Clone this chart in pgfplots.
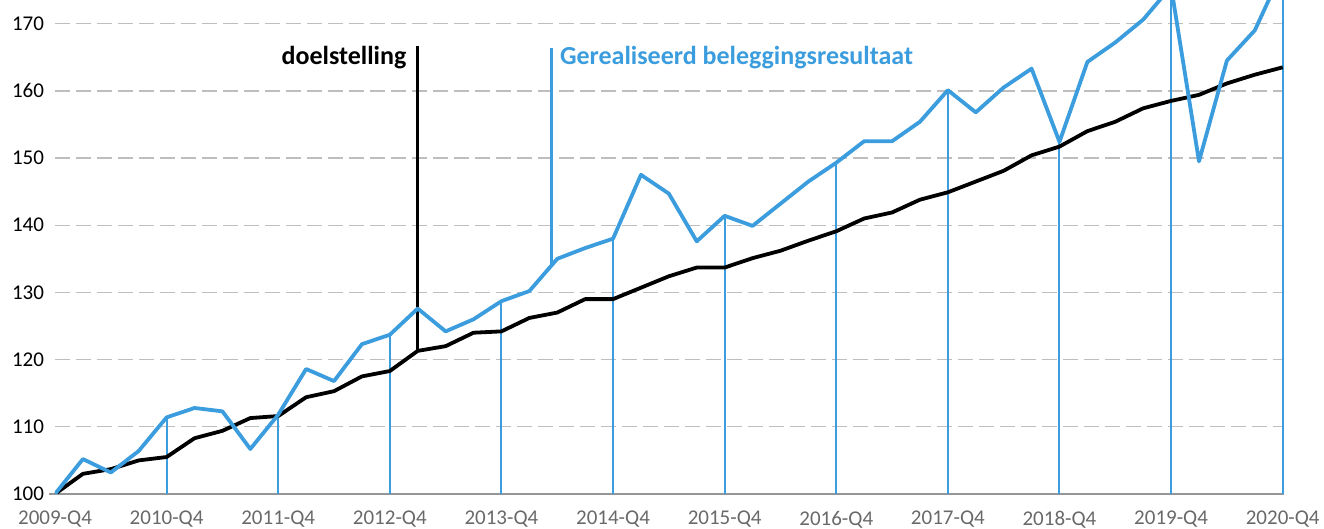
\documentclass[border=0pt]{standalone}
\usepackage{fontspec}
\setmainfont{Carlito}
\usepackage{pgfplots}
\usepackage{pgfplotstable}
\pgfplotsset{compat=1.18}
\definecolor{myblue}{RGB}{59,157,221}
\definecolor{gridgrey}{RGB}{190,190,190}
\definecolor{axisgrey}{RGB}{150,150,150}
\definecolor{labgrey}{RGB}{105,105,105}

\pgfplotstableread{
x real doel
0 100.0 100.0
1 105.2 103.0
2 103.2 103.7
3 106.4 105.0
4 111.4 105.5
5 112.8 108.3
6 112.3 109.4
7 106.7 111.3
8 111.8 111.6
9 118.6 114.4
10 116.8 115.3
11 122.3 117.5
12 123.7 118.3
13 127.6 121.3
14 124.2 122.0
15 126.0 124.0
16 128.7 124.2
17 130.2 126.2
18 135.0 127.0
19 136.6 129.0
20 138.0 129.0
21 147.5 130.7
22 144.7 132.4
23 137.6 133.7
24 141.4 133.7
25 139.9 135.1
26 143.2 136.2
27 146.5 137.7
28 149.3 139.1
29 152.5 141.0
30 152.5 141.9
31 155.4 143.8
32 160.1 144.9
33 156.8 146.5
34 160.5 148.1
35 163.3 150.4
36 152.4 151.7
37 164.3 154.0
38 167.2 155.4
39 170.6 157.4
40 175.5 158.5
41 149.5 159.4
42 164.5 161.1
43 169.0 162.4
44 178.0 163.5
}\datatable

\pgfplotstableread{
x real
4 111.4
8 111.8
12 123.7
16 128.7
20 138.0
24 141.4
28 149.3
32 160.1
36 152.4
40 175.5
44 178.0
}\droptable

\begin{document}
\begin{tikzpicture}
\useasboundingbox (-27.5pt,-17.5pt) rectangle (634.5pt,247pt);
\begin{axis}[
  scale only axis,
  width=614.55pt, height=247pt,
  at={(0,0)}, anchor=south west,
  xmin=0, xmax=44.05, ymin=100, ymax=173.52,
  axis lines*=left,
  y axis line style={draw=none},
  x axis line style={draw=axisgrey, line width=1.1pt, shorten <=-3pt},
  major tick length=0pt,
  ytick={100,110,...,170},
  xtick={0,4,...,44},
  xticklabels={2009-Q4,2010-Q4,2011-Q4,2012-Q4,2013-Q4,2014-Q4,2015-Q4,2016-Q4,2017-Q4,2018-Q4,2019-Q4,2020-Q4},
  ymajorgrids,
  major grid style={draw=gridgrey, line width=0.7pt, dash pattern=on 7.5pt off 3pt},
  /pgf/number format/assume math mode=true,
  yticklabel style={font=\fontsize{10.5}{12}\selectfont, text=black, anchor=east, inner sep=0pt, xshift=-5.3pt},
  xticklabel style={font=\fontsize{10.5}{12}\selectfont, text=labgrey, anchor=north, inner sep=0pt, yshift=-8.3pt},
  clip=true,
]
\addplot[ycomb, draw=myblue, line width=1pt, mark=none] table[x=x, y=real] {\droptable};
\addplot[draw=black, line width=1.5pt, mark=none] coordinates {(13,121.3) (13,166.7)};
\addplot[draw=myblue, line width=1.3pt, mark=none] coordinates {(17.8,134.0) (17.8,166.3)};
\addplot[draw=black, line width=1.9pt, line join=round, mark=none] table[x=x, y=doel] {\datatable};
\addplot[draw=myblue, line width=1.9pt, line join=round, mark=none] table[x=x, y=real] {\datatable};
\node[anchor=base east, inner sep=0pt, xshift=-5.5pt, font=\fontsize{13}{15}\selectfont\bfseries] at (axis cs:13,163.85) {doelstelling};
\node[anchor=base west, inner sep=0pt, xshift=4pt, text=myblue, font=\fontsize{13}{15}\selectfont\bfseries] at (axis cs:17.8,163.85) {Gerealiseerd beleggingsresultaat};
\end{axis}
\end{tikzpicture}
\end{document}
